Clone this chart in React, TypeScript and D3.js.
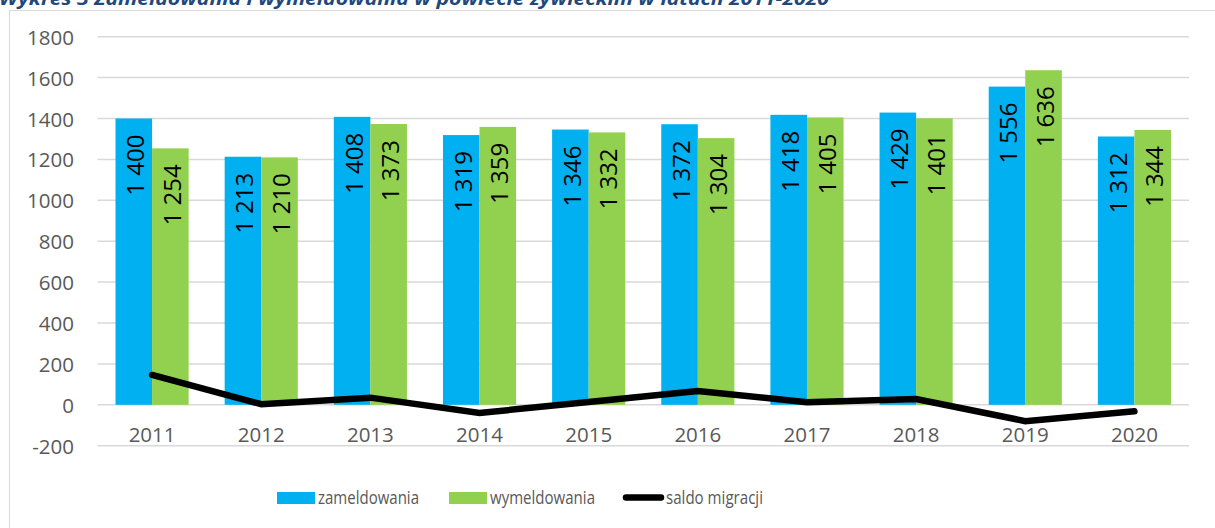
import React from "react";
import * as d3 from "d3";

const years = ["2011","2012","2013","2014","2015","2016","2017","2018","2019","2020"];
const zameldowania = [1400,1213,1408,1319,1346,1372,1418,1429,1556,1312];
const wymeldowania = [1254,1210,1373,1359,1332,1304,1405,1401,1636,1344];
const saldo = [146,3,35,-40,14,68,13,28,-80,-32];
const yTicks = [-200,0,200,400,600,800,1000,1200,1400,1600,1800];
const seriesNames = ["zameldowania","wymeldowania","saldo migracji"];
const title = "Wykres 3 Zameldowania i wymeldowania w powiecie żywieckim w latach 2011-2020";

const BLUE = "#00B0F0";
const GREEN = "#92D050";
const GRID = "#D9D9D9";
const TXT = "#595959";
const NUM_FONT = "'Open Sans', sans-serif";

const fmt = (v: number) => {
  const s = String(v);
  return s.length > 3 ? s.slice(0, s.length - 3) + " " + s.slice(-3) : s;
};

export default function App() {
  const x = d3.scaleBand<string>().domain(years).range([97.5, 1189]).paddingInner(0.33).paddingOuter(0.165);
  const y = d3.scaleLinear().domain([-200, 1800]).range([445.7, 36.7]);
  const bw = x.bandwidth() / 2;
  const line = d3.line<number>()
    .x((_, i) => (x(years[i]) as number) + x.bandwidth() / 2)
    .y((d) => y(d));

  return (
    <svg width={1215} height={528} style={{ position: "absolute", left: 0, top: 0, background: "#fff" }}>
      <rect x={9.5} y={10.5} width={1215} height={600} fill="#fff" stroke={GRID} strokeWidth={1} />
      <text x={-1} y={5} fontFamily="'Open Sans', sans-serif" fontStyle="italic" fontWeight="bold" fontSize={18}
        fill="#1F497D" textLength={830} lengthAdjust="spacingAndGlyphs">{title}</text>
      {yTicks.map((t) => (
        <g key={t}>
          <line x1={97.5} x2={1189} y1={y(t)} y2={y(t)} stroke={GRID} strokeWidth={1.5} />
          <text x={74} y={y(t)} textAnchor="end" dominantBaseline="central" fontFamily={NUM_FONT} fontSize={20.5} fill={TXT}>{t}</text>
        </g>
      ))}
      {years.map((yr, i) => {
        const x0 = x(yr) as number;
        const bars = [
          { v: zameldowania[i], c: BLUE, xs: x0 },
          { v: wymeldowania[i], c: GREEN, xs: x0 + bw },
        ];
        return (
          <g key={yr}>
            {bars.map((b, j) => (
              <g key={j}>
                <rect x={b.xs} y={y(b.v)} width={bw} height={y(0) - y(b.v)} fill={b.c} />
                <text transform={`translate(${b.xs + bw / 2 + 1},${y(b.v) + 16}) rotate(-90)`} textAnchor="end"
                  dominantBaseline="central" fontFamily={NUM_FONT} fontSize={24} fill="#000">{fmt(b.v)}</text>
              </g>
            ))}
            <text x={x0 + x.bandwidth() / 2} y={442} textAnchor="middle" fontFamily={NUM_FONT} fontSize={20.5} fill={TXT}>{yr}</text>
          </g>
        );
      })}
      <path d={line(saldo) as string} fill="none" stroke="#000" strokeWidth={6.5} strokeLinecap="round" strokeLinejoin="miter" />
      <rect x={277} y={492} width={38} height={12} fill={BLUE} />
      <text x={318} y={504} fontFamily={NUM_FONT} fontSize={19} fill={TXT} textLength={101} lengthAdjust="spacingAndGlyphs">{seriesNames[0]}</text>
      <rect x={449} y={492} width={38} height={12} fill={GREEN} />
      <text x={490} y={504} fontFamily={NUM_FONT} fontSize={19} fill={TXT} textLength={105} lengthAdjust="spacingAndGlyphs">{seriesNames[1]}</text>
      <line x1={626} x2={661} y1={497.5} y2={497.5} stroke="#000" strokeWidth={6.5} strokeLinecap="round" />
      <text x={666} y={504} fontFamily={NUM_FONT} fontSize={19} fill={TXT} textLength={97} lengthAdjust="spacingAndGlyphs">{seriesNames[2]}</text>
    </svg>
  );
}
